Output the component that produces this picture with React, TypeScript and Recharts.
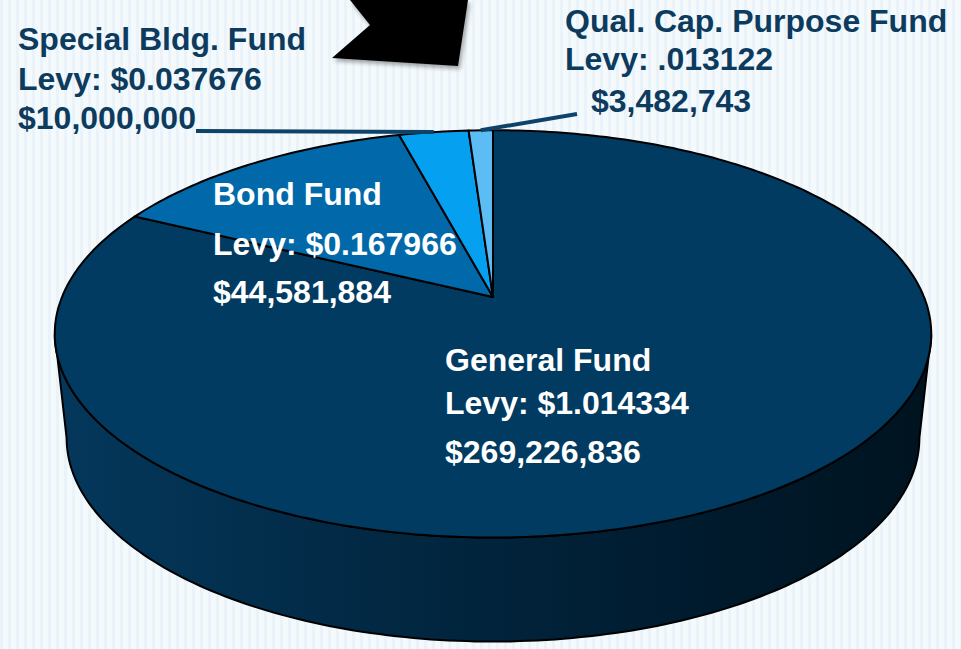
import React from 'react';
import { PieChart, Pie, Cell } from 'recharts';

const funds = ['General Fund', 'Bond Fund', 'Special Bldg. Fund', 'Qual. Cap. Purpose Fund'];
const amounts = [269226836, 44581884, 10000000, 3482743];
const levies = ['$1.014334', '$0.167966', '$0.037676', '.013122'];

const colors = ['#013B61', '#0169A9', '#05A0F0', '#5CBCF4'];

const data = funds.map((name, i) => ({ name, value: amounts[i], levy: levies[i] }));

// where each label block sits (line baselines, leader start)
const labelSpots: Record<string, any> = {
  'General Fund': { x: 445, ys: [371, 414, 463], color: '#fff' },
  'Bond Fund': { x: 213, ys: [205, 255, 303], color: '#fff' },
  'Special Bldg. Fund': { x: 18, ys: [50, 90, 129], color: '#0D3B5E', leader: [196, 131] },
  'Qual. Cap. Purpose Fund': { x: 565, ys: [32, 70, 112], indent: [0, 0, 26], color: '#0D3B5E', leader: [577, 114] },
};

// tilted pie: horizontal / vertical radius, perspective, thickness, bottom shrink
const RX = 431;
const RY = 197;
const PERSP = 0.181;
const DEPTH = 104;
const SHRINK = 0.973;
const EDGE = (Math.asin(PERSP) * 180) / Math.PI;

const money = (v: number) => '$' + v.toLocaleString('en-US');

const project = (cx: number, cy: number, deg: number) => {
  const a = (deg * Math.PI) / 180;
  const s = Math.sin(a);
  const d = 1 + PERSP * s;
  return [cx + (RX * Math.cos(a)) / d, cy - (RY * s) / d];
};

const projectBottom = (cx: number, cy: number, deg: number) => {
  const [x, y] = project(cx, cy, deg);
  return [cx + (x - cx) * SHRINK, y + DEPTH];
};

const arcPoints = (cx: number, cy: number, from: number, to: number, bottom = false) => {
  const n = Math.max(2, Math.ceil(Math.abs(to - from)));
  const pts: number[][] = [];
  for (let i = 0; i <= n; i++) {
    const deg = from + ((to - from) * i) / n;
    pts.push(bottom ? projectBottom(cx, cy, deg) : project(cx, cy, deg));
  }
  return pts;
};

const toPath = (pts: number[][]) =>
  pts.map((p, i) => `${i ? 'L' : 'M'}${p[0].toFixed(1)},${p[1].toFixed(1)}`).join(' ') + ' Z';

const Sector3D = (props: any) => {
  const { cx, cy, startAngle, endAngle, fill } = props;
  const lo = Math.min(startAngle, endAngle);
  const hi = Math.max(startAngle, endAngle);
  const walls: number[][] = [];
  for (const shift of [-360, 0, 360]) {
    const a = Math.max(lo, -180 + EDGE + shift);
    const b = Math.min(hi, -EDGE + shift);
    if (b > a) walls.push([a, b]);
  }
  return (
    <g>
      {walls.map(([a, b], i) => (
        <path
          key={i}
          d={toPath([...arcPoints(cx, cy, a, b), ...arcPoints(cx, cy, b, a, true)])}
          fill="url(#wallShade)"
          stroke="#000"
          strokeWidth={2}
          strokeLinejoin="round"
        />
      ))}
      <path
        d={toPath([[cx, cy], ...arcPoints(cx, cy, lo, hi)])}
        fill={fill}
        stroke="#000"
        strokeWidth={2}
        strokeLinejoin="round"
      />
    </g>
  );
};

const renderLabel = (props: any) => {
  const { index, midAngle, cx, cy } = props;
  const item = data[index];
  const spot = labelSpots[item.name];
  const lines = [item.name, `Levy: ${item.levy}`, money(item.value)];
  const edge = project(cx, cy, midAngle);
  return (
    <g>
      {spot.leader && (
        <line
          x1={spot.leader[0]}
          y1={spot.leader[1]}
          x2={edge[0]}
          y2={edge[1]}
          stroke="#0D4369"
          strokeWidth={4}
        />
      )}
      <text fill={spot.color} fontFamily="'Liberation Sans', Arial, sans-serif" fontWeight="bold" fontSize={32}>
        {lines.map((t, i) => (
          <tspan key={i} x={spot.x + (spot.indent ? spot.indent[i] : 0)} y={spot.ys[i]}>
            {t}
          </tspan>
        ))}
      </text>
    </g>
  );
};

export default function App() {
  return (
    <div
      style={{
        position: 'absolute',
        left: 0,
        top: 0,
        width: 961,
        height: 649,
        background: 'repeating-linear-gradient(90deg, #eaf3f9 0px, #eaf3f9 3px, #f4f9fc 3px, #f4f9fc 8px)',
      }}
    >
      <PieChart width={961} height={649} margin={{ top: 0, right: 0, bottom: 0, left: 0 }}>
        <defs>
          <linearGradient id="wallShade" x1="0" y1="0" x2="1" y2="0">
            <stop offset="0%" stopColor="#04385C" />
            <stop offset="35%" stopColor="#022944" />
            <stop offset="70%" stopColor="#001C30" />
            <stop offset="100%" stopColor="#00131F" />
          </linearGradient>
          <filter id="shadow" x="-20%" y="-20%" width="140%" height="140%">
            <feDropShadow dx="2" dy="3" stdDeviation="2" floodColor="#000" floodOpacity="0.35" />
          </filter>
        </defs>
        <polygon points="350,0 370,25 332,58 458,66 468,0" fill="#000" filter="url(#shadow)" />
        <Pie
          data={data}
          dataKey="value"
          nameKey="name"
          cx={493}
          cy={297}
          outerRadius={200}
          startAngle={90}
          endAngle={-270}
          shape={Sector3D}
          inactiveShape={Sector3D}
          activeShape={Sector3D}
          label={renderLabel}
          labelLine={false}
          isAnimationActive={false}
        >
          {data.map((d, i) => (
            <Cell key={d.name} fill={colors[i]} />
          ))}
        </Pie>
      </PieChart>
    </div>
  );
}
